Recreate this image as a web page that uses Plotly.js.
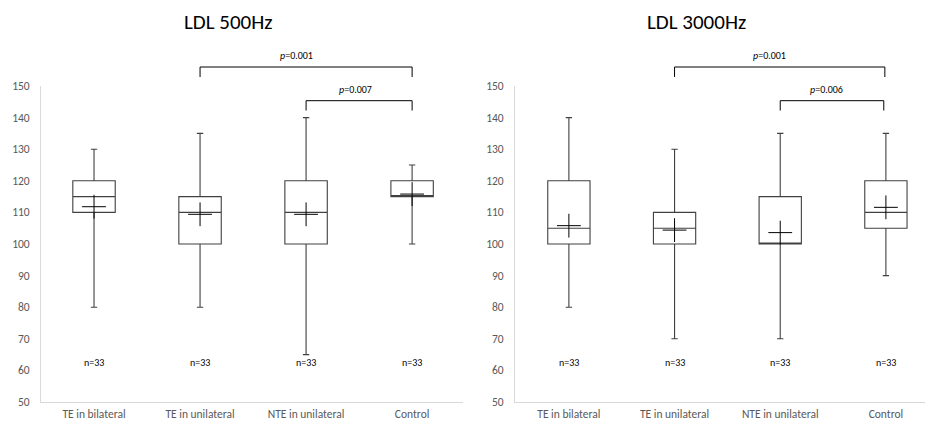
<!DOCTYPE html>
<html>
<head>
<meta charset="utf-8">
<script src="https://cdn.plot.ly/plotly-3.0.1.min.js"></script>
<style>html,body{margin:0;padding:0;background:#fff;}#chart{width:925px;height:422px;}</style>
</head>
<body>
<div id="chart"></div>
<script>
// ---- data ----
const categories = ["TE in bilateral", "TE in unilateral", "NTE in unilateral", "Control"];
const titles = ["LDL 500Hz", "LDL 3000Hz"];
const nLabels = ["n=33", "n=33", "n=33", "n=33"];

// LDL 500Hz
const min500 = [80, 80, 65, 100];
const q1_500 = [110, 100, 100, 115];
const med500 = [115, 110, 110, 115];
const q3_500 = [120, 115, 120, 120];
const max500 = [130, 135, 140, 125];
const mean500 = [111.8, 109.4, 109.4, 115.8];
const pTop500 = "0.001";
const pLow500 = "0.007";

// LDL 3000Hz
const min3000 = [80, 70, 70, 90];
const q1_3000 = [100, 100, 100, 105];
const med3000 = [105, 105, 100, 110];
const q3_3000 = [120, 110, 115, 120];
const max3000 = [140, 130, 135, 135];
const mean3000 = [105.8, 104.4, 103.6, 111.6];
const pTop3000 = "0.001";
const pLow3000 = "0.006";

const yTicks = [50, 60, 70, 80, 90, 100, 110, 120, 130, 140, 150];

// ---- style ----
const FONT = "Carlito, Lato, 'Open Sans', sans-serif";
const boxLine = "#404040";

function boxTrace(xa, ya, lo, q1, med, q3, hi) {
  return {
    type: "box", xaxis: xa, yaxis: ya, x: categories,
    lowerfence: lo, q1: q1, median: med, q3: q3, upperfence: hi,
    boxpoints: false, width: 0.4, whiskerwidth: 0.15,
    fillcolor: "rgba(255,255,255,0)",
    line: {color: boxLine, width: 1.1},
    hoverinfo: "skip"
  };
}
function meanTrace(xa, ya, means) {
  return {
    type: "scatter", mode: "markers", xaxis: xa, yaxis: ya, x: categories, y: means,
    marker: {symbol: "cross-thin", size: 17, color: "#000", line: {color: "#000", width: 1}},
    hoverinfo: "skip"
  };
}

const data = [
  boxTrace("x", "y", min500, q1_500, med500, q3_500, max500),
  meanTrace("x", "y", mean500),
  boxTrace("x2", "y2", min3000, q1_3000, med3000, q3_3000, max3000),
  meanTrace("x2", "y2", mean3000)
];

const W = 925, H = 422, T = 86, B = 20;
const py = px => (H - B - px) / (H - T - B); // pixel row -> paper y

function bracketShapes(xref, x0, x1, yBar, yLeg0, yLeg1) {
  const st = {color: "#000", width: 1};
  return [
    {type: "line", xref: xref, yref: "paper", x0: x0, x1: x1, y0: py(yBar), y1: py(yBar), line: st},
    {type: "line", xref: xref, yref: "paper", x0: x0, x1: x0, y0: py(yBar), y1: py(yLeg0), line: st},
    {type: "line", xref: xref, yref: "paper", x0: x1, x1: x1, y0: py(yBar), y1: py(yLeg1), line: st}
  ];
}

const shapes = [].concat(
  bracketShapes("x", 1, 3, 67, 77, 77),
  bracketShapes("x", 2, 3, 100.7, 110.5, 110.5),
  bracketShapes("x2", 1, 2.99, 67, 77, 77),
  bracketShapes("x2", 2, 2.98, 100.7, 110.5, 110.5)
);

const annotations = [];
// titles
const titleFont = {family: FONT, size: 21, color: "#000", weight: "normal"};
annotations.push({text: titles[0], xref: "paper", yref: "paper", x: 228 / W, y: py(22), showarrow: false,
  font: titleFont, xanchor: "center", yanchor: "middle"});
annotations.push({text: titles[1], xref: "paper", yref: "paper", x: 696 / W, y: py(22), showarrow: false,
  font: titleFont, xanchor: "center", yanchor: "middle"});
// p values
function pAnn(xref, x, yPx, val) {
  return {text: "<i>p</i>=" + val, xref: xref, yref: "paper", x: x, y: py(yPx), showarrow: false,
    font: {family: FONT, size: 10, color: "#000", weight: "normal"}, xanchor: "center", yanchor: "middle"};
}
annotations.push(pAnn("x", 1.906, 56, pTop500));
annotations.push(pAnn("x", 2.47, 90, pLow500));
annotations.push(pAnn("x2", 1.90, 56, pTop3000));
annotations.push(pAnn("x2", 2.435, 90, pLow3000));
// n labels
categories.forEach((c, i) => {
  ["x", "x2"].forEach((xr, k) => {
    annotations.push({text: nLabels[i], xref: xr, yref: k === 0 ? "y" : "y2", x: i, y: 62.4, showarrow: false,
      font: {family: FONT, size: 10, color: "#000", weight: "normal"}, xanchor: "center", yanchor: "middle"});
  });
});

const xCommon = {
  type: "category", showline: true, linecolor: "#d9d9d9", linewidth: 1, showgrid: false, zeroline: false,
  ticks: "", tickfont: {family: FONT, size: 11.5, color: "#595959", weight: "normal"}, fixedrange: true,
  ticklabelstandoff: 1
};
const yCommon = {
  range: [50, 150], tickvals: yTicks, showline: true, linecolor: "#d9d9d9", linewidth: 1, showgrid: false,
  zeroline: false, ticks: "", tickfont: {family: FONT, size: 11.5, color: "#595959", weight: "normal"},
  fixedrange: true, ticklabelstandoff: 8
};

const layout = {
  width: W, height: H,
  margin: {l: 0, r: 0, t: T, b: B},
  paper_bgcolor: "#fff", plot_bgcolor: "rgba(0,0,0,0)",
  showlegend: false, hovermode: false,
  font: {family: FONT, weight: "normal"},
  xaxis: Object.assign({}, xCommon, {domain: [41 / W, 463 / W], range: [-0.5, 3.48], anchor: "y"}),
  yaxis: Object.assign({}, yCommon, {anchor: "x"}),
  xaxis2: Object.assign({}, xCommon, {domain: [515 / W, 1], range: [-0.51, 3.37], anchor: "y2"}),
  yaxis2: Object.assign({}, yCommon, {anchor: "x2"}),
  shapes: shapes,
  annotations: annotations
};

Plotly.newPlot("chart", data, layout, {displayModeBar: false, staticPlot: true});
</script>
</body>
</html>
